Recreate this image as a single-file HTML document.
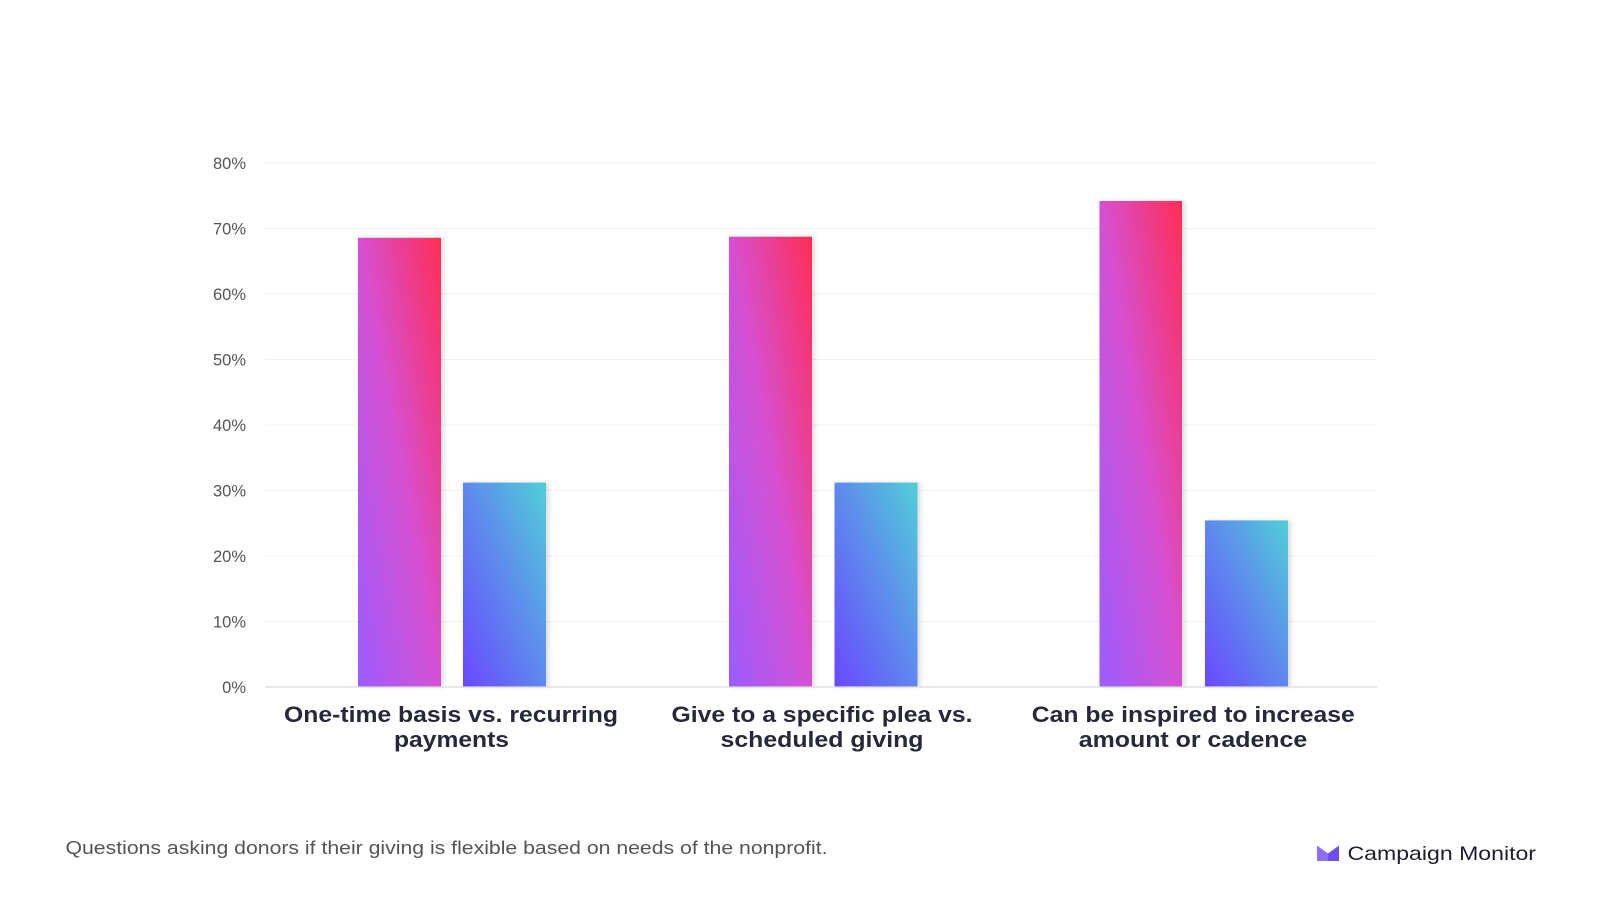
<!DOCTYPE html>
<html>
<head>
<meta charset="utf-8">
<style>
  html, body { margin: 0; padding: 0; background: #ffffff; }
  body { width: 1600px; height: 900px; overflow: hidden; }
  svg { display: block; }
</style>
</head>
<body>
<svg width="1600" height="900" viewBox="0 0 1600 900" xmlns="http://www.w3.org/2000/svg">
  <defs>
    <linearGradient id="pink" x1="0" y1="1" x2="1" y2="0">
      <stop offset="0" stop-color="#9b5cff"/>
      <stop offset="0.5" stop-color="#d650d2"/>
      <stop offset="1" stop-color="#ff2d55"/>
    </linearGradient>
    <linearGradient id="blue" x1="0" y1="1" x2="1" y2="0">
      <stop offset="0" stop-color="#6a48ff"/>
      <stop offset="0.5" stop-color="#5e88ee"/>
      <stop offset="1" stop-color="#50cfd8"/>
    </linearGradient>
    <filter id="sh" x="-20%" y="-5%" width="150%" height="110%">
      <feDropShadow dx="3" dy="0" stdDeviation="2" flood-color="#000" flood-opacity="0.13"/>
    </filter>
  </defs>

  <rect x="0" y="0" width="1600" height="900" fill="#ffffff"/>

  <!-- gridlines -->
  <g stroke="#f1f1f1" stroke-width="1">
    <line x1="265" y1="163" x2="1377" y2="163"/>
    <line x1="265" y1="228.5" x2="1377" y2="228.5"/>
    <line x1="265" y1="294" x2="1377" y2="294"/>
    <line x1="265" y1="359.5" x2="1377" y2="359.5"/>
    <line x1="265" y1="425" x2="1377" y2="425"/>
    <line x1="265" y1="490.5" x2="1377" y2="490.5"/>
    <line x1="265" y1="556" x2="1377" y2="556"/>
    <line x1="265" y1="621.5" x2="1377" y2="621.5"/>
  </g>

  <!-- y tick labels -->
  <g font-family="Liberation Sans, Arial, sans-serif" font-size="16.5" fill="#555555" text-anchor="end">
    <text x="246" y="169">80%</text>
    <text x="246" y="234.5">70%</text>
    <text x="246" y="300">60%</text>
    <text x="246" y="365.5">50%</text>
    <text x="246" y="431">40%</text>
    <text x="246" y="496.5">30%</text>
    <text x="246" y="562">20%</text>
    <text x="246" y="627.5">10%</text>
    <text x="246" y="693">0%</text>
  </g>

  <!-- bars -->
  <g filter="url(#sh)">
    <rect x="358" y="237.8" width="83" height="449.2" fill="url(#pink)"/>
    <rect x="463" y="482.6" width="83" height="204.4" fill="url(#blue)"/>
    <rect x="729" y="236.7" width="83" height="450.3" fill="url(#pink)"/>
    <rect x="834.5" y="482.6" width="83" height="204.4" fill="url(#blue)"/>
    <rect x="1099.5" y="201" width="82.5" height="486" fill="url(#pink)"/>
    <rect x="1205" y="520.4" width="83" height="166.6" fill="url(#blue)"/>
  </g>

  <!-- baseline -->
  <line x1="265" y1="687" x2="1377" y2="687" stroke="#d9d9d9" stroke-width="1.2"/>

  <!-- x labels -->
  <g font-family="Liberation Sans, Arial, sans-serif" font-size="22" font-weight="bold" fill="#272839" text-anchor="middle">
    <text x="451" y="722" textLength="334" lengthAdjust="spacingAndGlyphs">One-time basis vs. recurring</text>
    <text x="451.5" y="747" textLength="115" lengthAdjust="spacingAndGlyphs">payments</text>
    <text x="822" y="722" textLength="301" lengthAdjust="spacingAndGlyphs">Give to a specific plea vs.</text>
    <text x="822" y="747" textLength="203" lengthAdjust="spacingAndGlyphs">scheduled giving</text>
    <text x="1193.3" y="722" textLength="323" lengthAdjust="spacingAndGlyphs">Can be inspired to increase</text>
    <text x="1193" y="747" textLength="228.5" lengthAdjust="spacingAndGlyphs">amount or cadence</text>
  </g>

  <!-- caption -->
  <text x="65.5" y="854" font-family="Liberation Sans, Arial, sans-serif" font-size="18" fill="#555555" textLength="762" lengthAdjust="spacingAndGlyphs">Questions asking donors if their giving is flexible based on needs of the nonprofit.</text>

  <!-- logo -->
  <g>
    <polygon points="1317,845.5 1328,853.5 1328,861 1317,861" fill="#8d6ef8"/>
    <polygon points="1328,853.5 1339,845.5 1339,861 1328,861" fill="#6f4ff0"/>
  </g>
  <text x="1347.5" y="860" font-family="Liberation Sans, Arial, sans-serif" font-size="19.5" fill="#1e1f2e" textLength="188.5" lengthAdjust="spacingAndGlyphs">Campaign Monitor</text>
</svg>
</body>
</html>
